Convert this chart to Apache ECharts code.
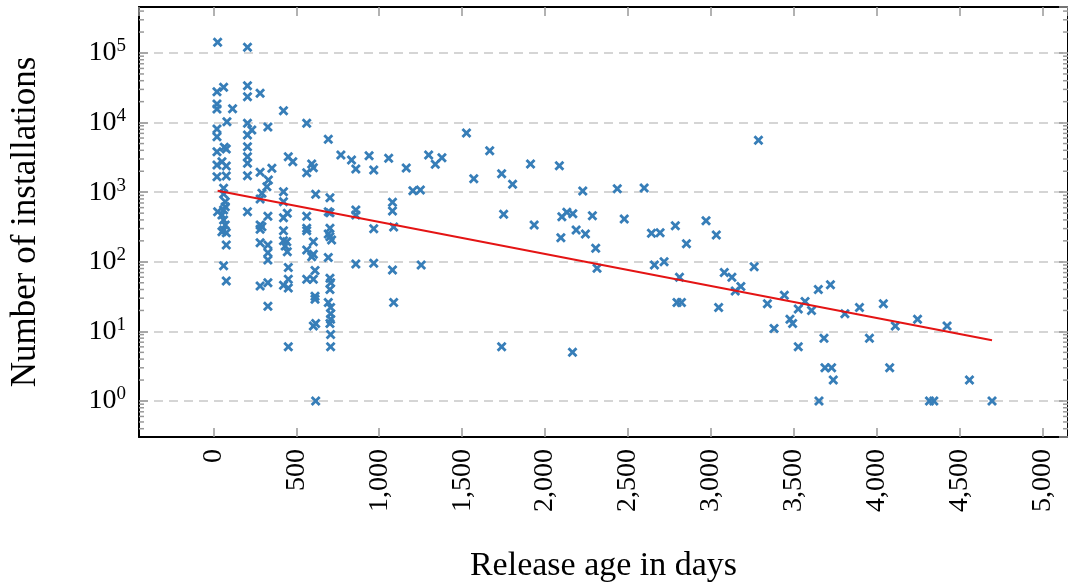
<!DOCTYPE html>
<html>
<head>
<meta charset="utf-8">
<script src="https://cdn.jsdelivr.net/npm/echarts@6/dist/echarts.min.js"></script>
<style>
  html, body { margin: 0; padding: 0; background: #fff; }
  #chart { width: 1068px; height: 588px; }
</style>
</head>
<body>
<div id="chart"></div>
<script>
// release age (days) vs number of installations
var releases = [
  [26,142600],[22,27800],[62,32100],[22,18500],[22,15700],[116,15800],[82,10300],[22,8090],[22,6270],
  [22,3820],[66,4420],[78,4170],[22,2460],[52,2740],[78,2380],[22,1670],[78,1710],[62,1140],[62,942],
  [72,730],[72,620],[26,525],[62,555],[52,470],[62,399],[72,338],[62,286],[78,262],[52,271],[78,174],
  [62,88],[78,53],
  [206,120800],[206,33900],[206,23600],[206,9770],[206,6640],[232,7830],[206,4510],[206,3240],
  [206,2600],[206,1730],[206,525],
  [282,26400],[329,8650],[282,1930],[353,2200],[332,1500],[323,1200],[293,965],[282,800],[329,450],
  [282,338],[282,293],[293,319],[282,188],[329,174],[329,135],[329,106],[282,45],[329,50],[329,23],
  [423,14800],[452,3240],[479,2740],[423,1017],[423,730],[446,500],[423,430],[423,280],[423,201],
  [443,194],[433,169],[446,140],[452,83],[423,46],[452,56],[452,42],[452,6],
  [563,9770],[563,1905],[593,2540],[603,2250],[617,933],[563,450],[563,303],[563,280],[603,194],
  [563,148],[603,128],[593,118],[613,75],[563,56],[603,56],[613,32],[613,29],[603,12],[617,13],[617,1],
  [693,5750],[703,834],[693,525],[703,505],[703,303],[693,251],[703,230],[713,206],[693,115],[703,58],
  [707,50],[703,40],[693,26],[707,22],[707,18],[707,15],[703,13],[707,9],[707,6],
  [769,3420],[833,2900],[859,2150],[939,3350],[859,555],[859,470],[859,93],[967,2080],[1057,3070],
  [967,299],[1080,716],[1080,537],[1087,316],[967,95],[1080,76],[1087,26],
  [1163,2230],[1203,1050],[1248,1075],[1298,3420],[1338,2520],[1378,3130],[1526,7090],[1570,1565],
  [1666,3950],[1738,1845],[1804,1300],[1912,2540],[2086,2400],[2227,1040],[2435,1120],[2597,1150],
  [1750,481],[1934,338],[2101,444],[2131,514],[2167,491],[2095,222],[2187,286],[2243,251],[2285,459],
  [2305,156],[2313,81],[2477,412],[2641,257],[2693,262],[2659,90],[2717,100],[1253,90],[1738,6],[2165,5],
  [3286,5600],[2785,330],[2970,390],[3032,243],[2852,182],[2810,60],[2795,26],[2822,26],[3046,22],
  [3080,70],[3126,60],[3146,38],[3180,44],[3260,85],[3340,25],[3380,11],[3442,33],[3476,15],[3492,13],
  [3526,21],[3567,27],[3606,20],[3526,6],[3647,40],[3720,47],[3681,8],[3687,3],[3727,3],[3737,2],
  [3651,1],[3807,18],[3895,22],[3955,8],[4039,25],[4111,12],[4077,3],[4245,15],[4317,1],[4343,1],
  [4423,12],[4558,2],[4694,1]
];
// fitted trend line end points
var trendAge = [26, 4694];
var trendInstalls = [1050, 7.45];

var X_MIN = -448, X_MAX = 5152;
var Y_MIN = 0.304, Y_MAX = 458000;

// minor log ticks (2..9 per decade) inside the range
var minorTicks = [];
for (var k = -1; k <= 5; k++) {
  for (var m = 2; m <= 9; m++) {
    var v = m * Math.pow(10, k);
    if (v > Y_MIN && v < Y_MAX) minorTicks.push(v);
  }
}

var FONT = 'Liberation Serif';
var TICK_COLOR = '#999';
var xMark = 'path://M2,0L5,3L8,0L10,2L7,5L10,8L8,10L5,7L2,10L0,8L3,5L0,2Z';

function frameLine() {
  return { show: true, onZero: false, lineStyle: { color: '#000', width: 2 } };
}
function tickStyle() {
  return { inside: true, length: 9, lineStyle: { color: TICK_COLOR, width: 1.5 } };
}

var chart = echarts.init(document.getElementById('chart'));
chart.setOption({
  animation: false,
  grid: { left: 138.5, right: -3, top: 7, bottom: 151 },
  xAxis: [{
    type: 'value', min: X_MIN, max: X_MAX, splitNumber: 10,
    name: 'Release age in days', nameLocation: 'middle', nameGap: 112,
    nameTextStyle: { fontFamily: FONT, fontSize: 34, color: '#000' },
    axisLine: frameLine(),
    axisTick: tickStyle(),
    splitLine: { show: false },
    axisLabel: {
      rotate: 90, margin: 12, fontFamily: FONT, fontSize: 28, color: '#000',
      showMinLabel: false, showMaxLabel: false,
      formatter: function (v) { return v.toLocaleString('en-US'); }
    }
  }, {
    type: 'value', position: 'top', min: X_MIN, max: X_MAX, splitNumber: 10,
    axisLine: frameLine(),
    axisTick: tickStyle(),
    splitLine: { show: false },
    axisLabel: { show: false }
  }],
  yAxis: [{
    type: 'log', min: Y_MIN, max: Y_MAX, logBase: 10,
    name: 'Number of installations', nameLocation: 'middle', nameGap: 96,
    nameTextStyle: { fontFamily: FONT, fontSize: 35, color: '#000' },
    axisLine: frameLine(),
    axisTick: tickStyle(),
    splitLine: {
      show: true, showMinLine: false, showMaxLine: false,
      lineStyle: { color: '#c8c8c8', width: 1.5, type: [9, 6] }
    },
    axisLabel: {
      margin: 13, showMinLabel: false, showMaxLabel: false,
      formatter: function (v) {
        return '{b|10}{s|' + Math.round(Math.log10(v)) + '}';
      },
      rich: {
        b: { fontFamily: FONT, fontSize: 28, color: '#000' },
        s: { fontFamily: FONT, fontSize: 19, color: '#000', padding: [0, 0, 13, 0] }
      }
    }
  }, {
    type: 'log', position: 'right', min: Y_MIN, max: Y_MAX, logBase: 10,
    axisLine: frameLine(),
    axisTick: tickStyle(),
    splitLine: { show: false },
    axisLabel: { show: false }
  }],
  series: [{
    type: 'custom',
    silent: true,
    clip: false,
    data: minorTicks.map(function (v) { return [X_MIN, v]; }),
    renderItem: function (params, api) {
      var p = api.coord([api.value(0), api.value(1)]);
      var cs = params.coordSys;
      var st = { stroke: TICK_COLOR, lineWidth: 1.5 };
      return {
        type: 'group',
        children: [
          { type: 'line', shape: { x1: cs.x, y1: p[1], x2: cs.x + 5, y2: p[1] }, style: st },
          { type: 'line', shape: { x1: cs.x + cs.width - 5, y1: p[1], x2: cs.x + cs.width, y2: p[1] }, style: st }
        ]
      };
    }
  }, {
    type: 'scatter',
    data: releases,
    symbol: xMark,
    symbolSize: 10,
    itemStyle: { color: '#377eb8', opacity: 1 },
    z: 3
  }, {
    type: 'line',
    data: trendAge.map(function (a, i) { return [a, trendInstalls[i]]; }),
    symbol: 'none',
    lineStyle: { color: '#e41414', width: 2 },
    z: 4
  }]
});
</script>
</body>
</html>
